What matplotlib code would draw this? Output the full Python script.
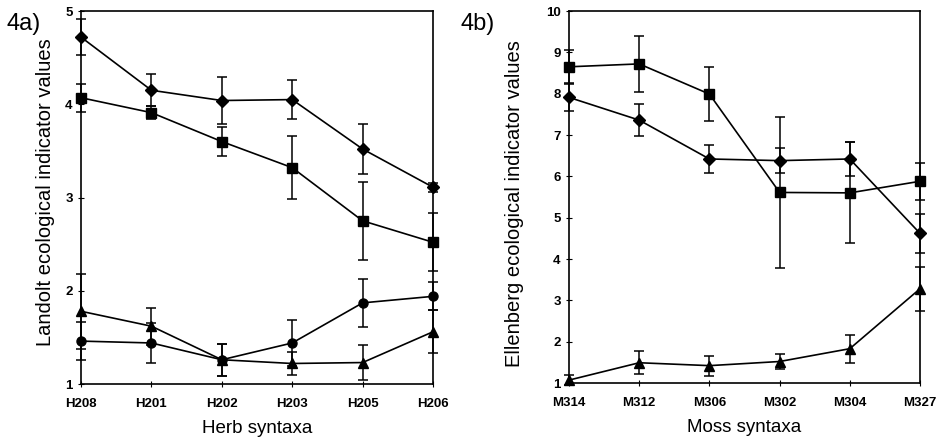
import matplotlib
matplotlib.use("Agg")
import matplotlib.pyplot as plt
import numpy as np

plt.rcParams['font.family'] = ['Liberation Sans', 'DejaVu Sans']

# Panel a: Herb syntaxa (Landolt)
herb_cats = ["H208", "H201", "H202", "H203", "H205", "H206"]
herb_diamond = [4.72, 4.15, 4.04, 4.05, 3.52, 3.11]
herb_diamond_err = [0.19, 0.17, 0.25, 0.21, 0.27, 0.05]
herb_square = [4.07, 3.91, 3.60, 3.32, 2.75, 2.52]
herb_square_err = [0.15, 0.07, 0.16, 0.34, 0.42, 0.31]
herb_triangle = [1.78, 1.62, 1.26, 1.22, 1.23, 1.56]
herb_triangle_err = [0.40, 0.20, 0.17, 0.12, 0.19, 0.23]
herb_circle = [1.46, 1.44, 1.26, 1.44, 1.87, 1.94]
herb_circle_err = [0.20, 0.21, 0.17, 0.25, 0.26, 0.15]

# Panel b: Moss syntaxa (Ellenberg)
moss_cats = ["M314", "M312", "M306", "M302", "M304", "M327"]
moss_square = [8.65, 8.72, 7.99, 5.61, 5.60, 5.88]
moss_square_err = [0.40, 0.68, 0.66, 1.82, 1.22, 0.45]
moss_diamond = [7.91, 7.36, 6.42, 6.38, 6.42, 4.62]
moss_diamond_err = [0.33, 0.38, 0.33, 0.30, 0.40, 0.48]
moss_triangle = [1.07, 1.49, 1.42, 1.52, 1.83, 3.28]
moss_triangle_err = [0.12, 0.28, 0.24, 0.19, 0.34, 0.53]

fig = plt.figure(figsize=(9.38, 4.44), dpi=100)
W, H = 938, 444

def make_axes(x0, x1, y0, y1):
    return fig.add_axes([x0 / W, 1 - y1 / H, (x1 - x0) / W, (y1 - y0) / H])

axA = make_axes(81, 433, 11, 384)
axB = make_axes(569, 920, 11, 383)

def series(ax, y, err, marker, ms):
    x = np.arange(len(y))
    ax.errorbar(x, y, yerr=err, color='black', marker=marker, ms=ms, lw=1.2,
                elinewidth=1.1, capsize=3.5, capthick=1.1, clip_on=False, zorder=3)

series(axA, herb_diamond, herb_diamond_err, 'D', 6)
series(axA, herb_square, herb_square_err, 's', 6.5)
series(axA, herb_triangle, herb_triangle_err, '^', 7)
series(axA, herb_circle, herb_circle_err, 'o', 6.5)

series(axB, moss_square, moss_square_err, 's', 7)
series(axB, moss_diamond, moss_diamond_err, 'D', 6)
series(axB, moss_triangle, moss_triangle_err, '^', 7)

for ax, cats, ylim, label, xlabel in [
        (axA, herb_cats, (1, 5), "Landolt ecological indicator values", "Herb syntaxa"),
        (axB, moss_cats, (1, 10), "Ellenberg ecological indicator values", "Moss syntaxa")]:
    ax.set_xlim(0, len(cats) - 1)
    ax.set_ylim(*ylim)
    ax.set_xticks(np.arange(len(cats)))
    ax.set_xticklabels(cats, fontweight='bold', fontsize=9.5)
    ax.set_yticks(np.arange(ylim[0], ylim[1] + 1))
    ax.set_yticklabels([str(v) for v in range(ylim[0], ylim[1] + 1)], fontweight='bold', fontsize=9.5)
    ax.tick_params(axis='both', direction='inout', length=4, width=0.8)
    ax.tick_params(axis='x', pad=8)
    ax.tick_params(axis='y', pad=4)
    ax.set_ylabel(label, fontsize=14.5, va='center')
    ax.set_xlabel(xlabel, fontsize=13.5, va='center')
    for s in ax.spines.values():
        s.set_linewidth(1.2)

axA.yaxis.set_label_coords(-0.102, 0.515)
axB.yaxis.set_label_coords(-0.154, 0.483)
axA.xaxis.set_label_coords(0.5, -0.118)
axB.xaxis.set_label_coords(0.5, -0.12)

fig.text(6 / W, 1 - 24 / H, "4a)", fontsize=17, va='center', ha='left')
fig.text(460 / W, 1 - 24 / H, "4b)", fontsize=17, va='center', ha='left')

fig.savefig("out.png", dpi=100)
